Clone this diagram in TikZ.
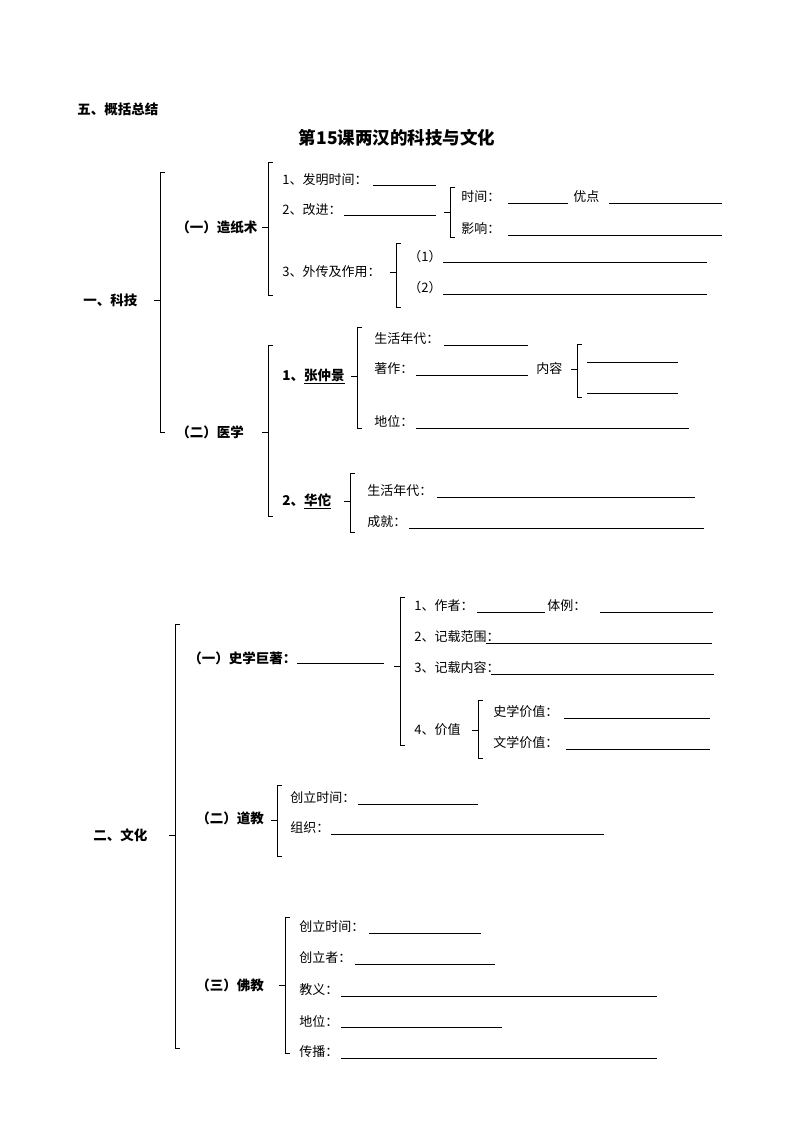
\documentclass[tikz,border=0pt]{standalone}
\usepackage{fontspec}
\setmainfont{Noto Sans CJK SC}
\begin{document}
\begin{tikzpicture}[x=1pt,y=-1pt,line width=0.7pt,
  t/.style={anchor=west,inner sep=0pt,font=\fontsize{13}{14}\selectfont},
  b/.style={t,font=\fontsize{13.5}{14}\selectfont\bfseries},
  bl/.style={line width=0.6pt}]
\useasboundingbox (0,0) rectangle (794,1123);
\newcommand\brk[4]{\draw (#1+5,#2)--(#1,#2)--(#1,#3)--(#1+5,#3); \draw (#1,#4)--(#1-6,#4);}
\newcommand\bln[3]{\draw[bl] (#1,#3)--(#2,#3);}
\node[b] (h) at (77,109) {五、概括总结};
\node[anchor=center,inner sep=0pt,font=\fontsize{17.5}{18}\selectfont\bfseries] (title) at (397,138) {第15课两汉的科技与文化};
% part 1
\node[b] (k) at (83,300) {一、科技};
\brk{160}{172}{432}{300}
\node[b] (z) at (176,227) {（一）造纸术};
\brk{268}{162}{295}{227}
\node[t] (z1) at (282,180) {1、发明时间：}; \bln{373}{436}{185}
\node[t] (z2) at (282,210) {2、改进：}; \bln{344}{436}{215}
\brk{450}{187}{237}{212}
\node[t] (sj) at (461,197) {时间：}; \bln{508}{568}{203}
\node[t] (yd) at (573,197) {优点}; \bln{609}{722}{203}
\node[t] (yx) at (461,229) {影响：}; \bln{508}{722}{235}
\node[t] (z3) at (282,272) {3、外传及作用：};
\brk{396}{243}{307}{272}
\node[t] (p1) at (408,257) {（1）}; \bln{443}{707}{262}
\node[t] (p2) at (408,288) {（2）}; \bln{443}{707}{294}
\node[b] (y) at (176,432) {（二）医学};
\brk{268}{345}{516}{432}
\node[b] (zz) at (282,376) {1、\underline{张仲景}};
\brk{357}{327}{428}{376}
\node[t] (a1) at (374,339) {生活年代：}; \bln{444}{528}{345}
\node[t] (a2) at (374,369) {著作：}; \bln{416}{528}{375}
\node[t] (a3) at (536,369) {内容};
\brk{577}{344}{397}{369}
\bln{587}{678}{362} \bln{587}{678}{393}
\node[t] (a4) at (374,421) {地位：}; \bln{416}{689}{428}
\node[b] (ht) at (282,501) {2、\underline{华佗}};
\brk{350}{473}{532}{501}
\node[t] (b1) at (367,491) {生活年代：}; \bln{437}{695}{497}
\node[t] (b2) at (367,522) {成就：}; \bln{409}{704}{528}
% part 2
\node[b] (w) at (93,835) {二、文化};
\brk{175}{624}{1048}{835}
\node[b] (s) at (188,658) {（一）史学巨著：}; \bln{297}{384}{663}
\brk{400}{597}{745}{666}
\node[t] (s1) at (414,606) {1、作者：}; \bln{477}{545}{612}
\node[t] (s1b) at (547,606) {体例：}; \bln{600}{713}{612}
\node[t] (s2) at (414,637) {2、记载范围：}; \bln{486}{712}{643}
\node[t] (s3) at (414,668) {3、记载内容：}; \bln{491}{714}{674}
\node[t] (s4) at (414,730) {4、价值};
\brk{478}{700}{758}{730}
\node[t] (v1) at (493,712) {史学价值：}; \bln{564}{710}{718}
\node[t] (v2) at (493,743) {文学价值：}; \bln{566}{710}{749}
\node[b] (d) at (196,818) {（二）道教};
\brk{277}{785}{856}{820}
\node[t] (d1) at (290,798) {创立时间：}; \bln{358}{478}{804}
\node[t] (d2) at (290,828) {组织：}; \bln{331}{604}{834}
\node[b] (f) at (196,985) {（三）佛教};
\brk{285}{917}{1053}{985}
\node[t] (f1) at (299,927) {创立时间：}; \bln{369}{481}{933}
\node[t] (f2) at (299,958) {创立者：}; \bln{355}{495}{964}
\node[t] (f3) at (299,990) {教义：}; \bln{341}{657}{996}
\node[t] (f4) at (299,1021) {地位：}; \bln{341}{502}{1027}
\node[t] (f5) at (299,1052) {传播：}; \bln{341}{657}{1058}
\end{tikzpicture}
\end{document}
